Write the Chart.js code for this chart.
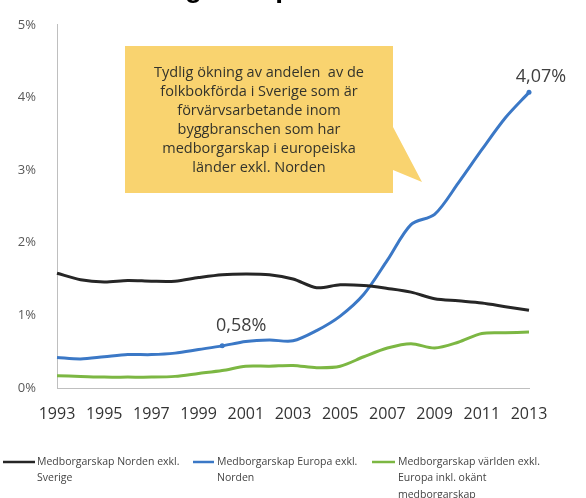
<!DOCTYPE html>
<html>
<head>
<meta charset="utf-8">
<script src="https://cdn.jsdelivr.net/npm/chart.js@4"></script>
<style>
  html, body { margin: 0; padding: 0; background: #fff; }
  #wrap { width: 586px; height: 498px; }
</style>
</head>
<body>
<div id="wrap"><canvas id="myChart"></canvas></div>
<script>
const years = ['1993','1994','1995','1996','1997','1998','1999','2000','2001','2002','2003',
  '2004','2005','2006','2007','2008','2009','2010','2011','2012','2013'];
const nordenExkl = [1.58,1.49,1.46,1.48,1.47,1.47,1.52,1.56,1.57,1.56,1.50,1.38,1.42,1.41,1.37,1.32,1.23,1.20,1.17,1.12,1.07];
const europaExkl = [0.42,0.40,0.43,0.46,0.46,0.48,0.53,0.58,0.64,0.66,0.65,0.79,0.99,1.29,1.76,2.25,2.39,2.82,3.28,3.72,4.07];
const varldenExkl = [0.17,0.16,0.15,0.15,0.15,0.16,0.20,0.24,0.30,0.30,0.31,0.28,0.30,0.43,0.55,0.61,0.55,0.63,0.75,0.76,0.77];
const yTicks = [0, 1, 2, 3, 4, 5];
const labelIdx = [7, 20];   // points on the Europa line that get a value label

const legendLines = [
  ['Medborgarskap Norden exkl.', 'Sverige'],
  ['Medborgarskap Europa exkl.', 'Norden'],
  ['Medborgarskap världen exkl.', 'Europa inkl. okänt', 'medborgarskap']
];
const calloutText = [
  'Tydlig ökning av andelen  av de',
  'folkbokförda i Sverige som är',
  'förvärvsarbetande inom',
  'byggbranschen som har',
  'medborgarskap i europeiska',
  'länder exkl. Norden'
];

const colors = ['#262626', '#3b78c6', '#7cb743'];

// extra drawing: cut-off title, callout box, value labels, legend
const extras = {
  id: 'extras',
  afterDatasetsDraw(chart) {
    const ctx = chart.ctx;
    ctx.save();

    // title, only the bottom of it is visible
    ctx.font = 'bold 28px "Liberation Sans"';
    ctx.fillStyle = '#000';
    ctx.textBaseline = 'alphabetic';
    ctx.textAlign = 'left';
    const tx = 185 - ctx.measureText('medbor').width;
    ctx.fillText('Andel medborgarskap', tx - ctx.measureText('Andel ').width, -3);

    // callout
    ctx.fillStyle = '#f9d36f';
    ctx.beginPath();
    ctx.moveTo(125, 46);
    ctx.lineTo(393, 46);
    ctx.lineTo(393, 127);
    ctx.lineTo(422, 182);
    ctx.lineTo(393, 170);
    ctx.lineTo(393, 193);
    ctx.lineTo(125, 193);
    ctx.closePath();
    ctx.fill();
    ctx.fillStyle = '#33332b';
    ctx.font = '14.5px "Open Sans"';
    ctx.textAlign = 'center';
    ctx.textBaseline = 'middle';
    calloutText.forEach((t, i) => ctx.fillText(t, 259, 73 + i * 19));

    // value labels
    const meta = chart.getDatasetMeta(1);
    ctx.font = '18px "Open Sans"';
    ctx.fillStyle = '#404040';
    labelIdx.forEach(i => {
      const p = meta.data[i];
      const txt = europaExkl[i].toFixed(2).replace('.', ',') + '%';
      const dx = i === 20 ? 12 : 19;
      const dy = i === 20 ? -15 : -20;
      ctx.fillText(txt, p.x + dx, p.y + dy);
    });

    // legend
    const lx = [[3, 35, 37], [193, 214, 217], [372, 395, 398]];
    ctx.font = '10.5px "Open Sans"';
    ctx.fillStyle = '#444';
    ctx.textAlign = 'left';
    ctx.lineWidth = 2.5;
    legendLines.forEach((lines, k) => {
      ctx.strokeStyle = colors[k];
      ctx.beginPath();
      ctx.moveTo(lx[k][0], 462);
      ctx.lineTo(lx[k][1], 462);
      ctx.stroke();
      lines.forEach((t, j) => ctx.fillText(t, lx[k][2], 462 + j * 16.5));
    });
    ctx.restore();
  }
};

new Chart(document.getElementById('myChart'), {
  type: 'line',
  data: {
    labels: years,
    datasets: [
      { label: legendLines[0].join(' '), data: nordenExkl, borderColor: colors[0] },
      { label: legendLines[1].join(' '), data: europaExkl, borderColor: colors[1],
        pointRadius: years.map((y, i) => labelIdx.includes(i) ? 2.5 : 0),
        pointBackgroundColor: colors[1], pointBorderWidth: 0 },
      { label: legendLines[2].join(' '), data: varldenExkl, borderColor: colors[2] }
    ]
  },
  options: {
    responsive: true,
    maintainAspectRatio: false,
    animation: false,
    layout: { padding: { top: 19, right: 57, left: 0, bottom: 0 } },
    elements: {
      line: { borderWidth: 3, tension: 0.3, fill: false },
      point: { radius: 0 }
    },
    plugins: {
      legend: { display: false },
      tooltip: { enabled: false }
    },
    scales: {
      x: {
        offset: false,
        grid: { display: false, drawTicks: true, tickLength: 5, color: '#bfbfbf' },
        border: { color: '#bfbfbf' },
        ticks: {
          autoSkip: false, maxRotation: 0, padding: 12,
          color: '#333', font: { family: 'Open Sans', size: 16 },
          callback: function (v, i) { return i % 2 === 0 ? years[i] : ''; }
        },
        afterFit: s => { s.height = 110; }
      },
      y: {
        min: 0, max: 5,
        afterBuildTicks: s => { s.ticks = yTicks.map(v => ({ value: v })); },
        grid: { display: false, drawTicks: true, tickLength: 4, color: '#bfbfbf' },
        border: { color: '#bfbfbf' },
        ticks: {
          padding: 17, color: '#595959', font: { family: 'Open Sans', size: 13 },
          callback: v => v + '%'
        },
        afterFit: s => { s.width = 57; }
      }
    }
  },
  plugins: [extras]
});
</script>
</body>
</html>
